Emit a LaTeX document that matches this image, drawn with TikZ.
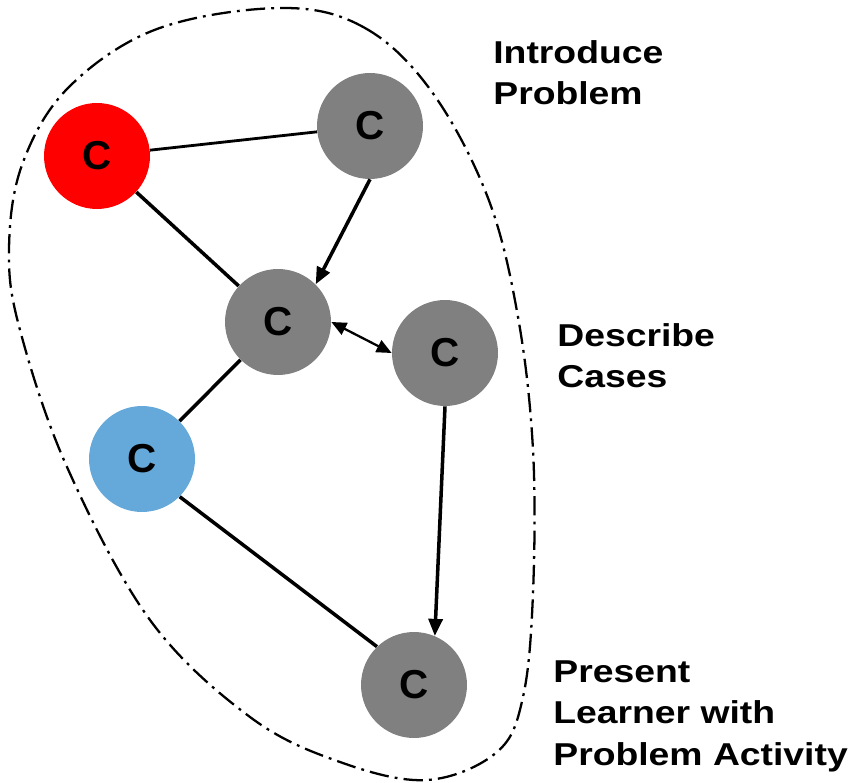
\documentclass[tikz,border=0pt]{standalone}
\usepackage{fontspec}
\setmainfont{Liberation Sans}
\newfontfamily\labelfont{Liberation Sans}[FakeStretch=1.18]
\usetikzlibrary{arrows.meta}

\definecolor{conceptred}{RGB}{255,0,0}
\definecolor{conceptgray}{RGB}{128,128,128}
\definecolor{conceptblue}{RGB}{101,168,218}

\tikzset{
  concept/.style={circle, minimum size=2.12cm, inner sep=0pt, draw=none,
    font=\fontsize{23}{26}\selectfont\bfseries},
  link/.style={line width=2pt},
  thinlink/.style={line width=1.6pt},
  flow/.style={line width=2pt, -{Triangle[length=0.34cm, width=0.28cm]}},
  twoway/.style={line width=1.3pt, {Triangle[length=0.3cm, width=0.26cm]}-{Triangle[length=0.3cm, width=0.26cm]}},
  boundary/.style={line width=1.3pt, dash pattern=on 11pt off 3.5pt on 1.6pt off 3.5pt},
  phase/.style={anchor=base west, inner sep=0pt, align=left,
    font=\labelfont\fontsize{18}{23.6}\selectfont\bfseries}
}

\begin{document}
\begin{tikzpicture}[x=0.02cm, y=-0.02cm]
  \useasboundingbox (0,0) rectangle (851,783);

  % grouping outline around all concepts
  \draw[boundary] plot[smooth cycle, tension=0.6] coordinates {
    (282,8) (365,28) (432,92) (488,198) (518,317) (533,450) (533,593)
    (523,697) (497,752) (427,780) (340,762) (250,717) (150,620)
    (67,467) (20,330) (9,250) (22,165) (68,88) (157,29)};

  % concepts
  \node[concept, fill=conceptred]  (red)    at (97,156)  {C};
  \node[concept, fill=conceptgray] (top)    at (370,126) {C};
  \node[concept, fill=conceptgray] (mid)    at (278,322) {C};
  \node[concept, fill=conceptgray] (right)  at (445,353) {C};
  \node[concept, fill=conceptblue] (blue)   at (142,459) {C};
  \node[concept, fill=conceptgray] (bottom) at (414,685) {C};

  % connectors
  \draw[thinlink] (red) -- (top);
  \draw[link] (red) -- (mid);
  \draw[flow] (top.-90) -- (mid.45);
  \draw[twoway] (mid.east) -- (right.west);
  \draw[link] (mid) -- (blue);
  \draw[link] (blue.-45) -- (bottom.134);
  \draw[flow] (right.-90) -- (bottom.67);

  % phase labels (anchored at the baseline of their last line)
  \node[phase] (lintro)   at (493,105) {Introduce\\Problem};
  \node[phase] (ldescr)   at (557,388) {Describe\\Cases};
  \node[phase] (lpresent) at (553,765) {Present\\Learner with\\Problem Activity};
\end{tikzpicture}
\end{document}
